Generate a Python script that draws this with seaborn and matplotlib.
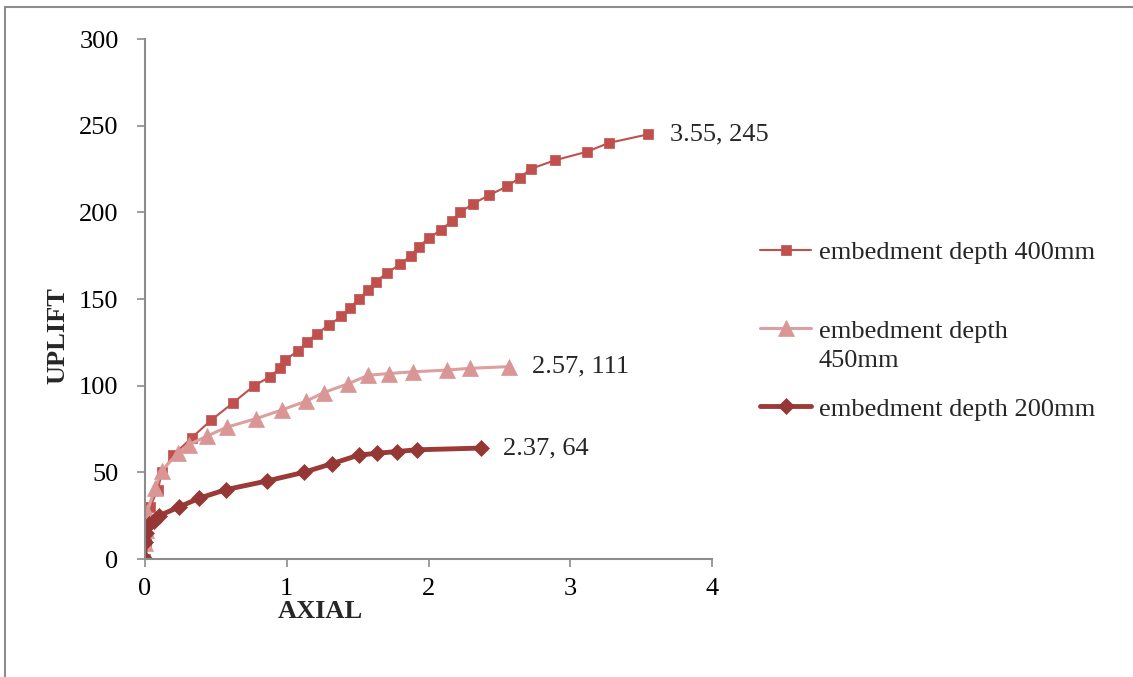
import matplotlib
matplotlib.use('Agg')
import matplotlib.pyplot as plt
import seaborn as sns
from matplotlib.patches import Rectangle

# data
axial_400 = [0, 0.005, 0.015, 0.035, 0.09, 0.12, 0.2, 0.33, 0.465, 0.62, 0.77, 0.88, 0.95, 0.99,
             1.08, 1.14, 1.21, 1.30, 1.385, 1.445, 1.51, 1.57, 1.63, 1.705, 1.80, 1.875, 1.93,
             2.0, 2.09, 2.165, 2.225, 2.315, 2.43, 2.555, 2.645, 2.72, 2.89, 3.12, 3.27, 3.55]
uplift_400 = [0, 10, 20, 30, 40, 50, 60, 70, 80, 90, 100, 105, 110, 115, 120, 125, 130, 135,
              140, 145, 150, 155, 160, 165, 170, 175, 180, 185, 190, 195, 200, 205, 210, 215,
              220, 225, 230, 235, 240, 245]

axial_450 = [0, 0, 0.005, 0.015, 0.07, 0.12, 0.23, 0.31, 0.44, 0.575, 0.785, 0.965, 1.135,
             1.26, 1.43, 1.575, 1.72, 1.89, 2.13, 2.29, 2.57]
uplift_450 = [0, 9, 17, 27, 41, 51, 61, 66, 71, 76, 81, 86, 91, 96, 101, 106, 107, 108, 109,
              110, 111]

axial_200 = [0, 0, 0.01, 0.03, 0.06, 0.1, 0.24, 0.38, 0.57, 0.86, 1.12, 1.32, 1.51, 1.64,
             1.775, 1.92, 2.37]
uplift_200 = [0, 10, 15, 20, 22, 25, 30, 35, 40, 45, 50, 55, 60, 61, 62, 63, 64]

labels = ['embedment depth 400mm', 'embedment depth', 'embedment depth 200mm']
label_450_second_line = '450mm'

sns.set_style('white')
plt.rcParams['font.family'] = ['Liberation Serif', 'DejaVu Serif']
FS = 19

fig = plt.figure(figsize=(11.33, 6.77), dpi=100)
ax = fig.add_axes([145 / 1133, 1 - 559 / 677, 567 / 1133, 520 / 677])

# outer chart frame (only top and left edges visible in the reference)
fig.patches.append(Rectangle((5 / 1133, -0.1), 1.2, 1 - 7 / 677 + 0.1, transform=fig.transFigure,
                             fill=False, edgecolor='#8c8c8c', linewidth=1.5))

series = [
    (axial_400, uplift_400, 's', '#C0504D', '#C0504D', 6.7, 1.5, labels[0]),
    (axial_450, uplift_450, '^', '#DCA09E', '#D99694', 11, 2.2, labels[1]),
    (axial_200, uplift_200, 'D', '#9B3A37', '#953735', 8, 3.5, labels[2]),
]
for xs, ys, mk, lc, mc, ms, lw, lab in series:
    sns.lineplot(x=xs, y=ys, ax=ax, estimator=None, sort=False, color=lc, linewidth=lw,
                 marker=mk, markersize=ms, markerfacecolor=mc, markeredgecolor=mc,
                 markeredgewidth=0.5, label=lab)
    ax.annotate(f'{xs[-1]:g}, {ys[-1]:g}', (xs[-1], ys[-1]), xytext=(16, 0),
                textcoords='offset points', va='center', ha='left', fontsize=FS)

ax.set_xlim(0, 4)
ax.set_ylim(0, 300)
ax.set_xticks([0, 1, 2, 3, 4])
ax.set_yticks([0, 50, 100, 150, 200, 250, 300])

for side in ['top', 'right']:
    ax.spines[side].set_visible(False)
for side in ['left', 'bottom']:
    ax.spines[side].set_color('#8c8c8c')
    ax.spines[side].set_linewidth(1.5)
ax.tick_params(axis='both', direction='out', length=6, width=1.2, color='#8c8c8c',
               labelsize=FS, labelcolor='black', bottom=True, left=True)
ax.tick_params(axis='y', pad=13)
ax.tick_params(axis='x', pad=8)

ax.set_xlabel('AXIAL', fontsize=FS, fontweight='bold')
ax.set_ylabel('UPLIFT', fontsize=FS, fontweight='bold')
ax.xaxis.set_label_coords(0.309, -0.078)
ax.yaxis.set_label_coords(-0.134, 0.429)

leg = ax.legend(loc='upper left', bbox_to_anchor=(760 / 1133, 1 - 241 / 677),
                bbox_transform=fig.transFigure, frameon=False, fontsize=FS,
                handlelength=1.95, handletextpad=0.28, labelspacing=2.07,
                borderpad=0, borderaxespad=0)

# second line of the 450mm legend label, placed under its first line
fig.canvas.draw()
renderer = fig.canvas.get_renderer()
bb = leg.get_texts()[1].get_window_extent(renderer).transformed(fig.transFigure.inverted())
fig.text(bb.x0, bb.y0 - 7 / 677, label_450_second_line, fontsize=FS, ha='left', va='top')

fig.savefig('out.png', dpi=100)
